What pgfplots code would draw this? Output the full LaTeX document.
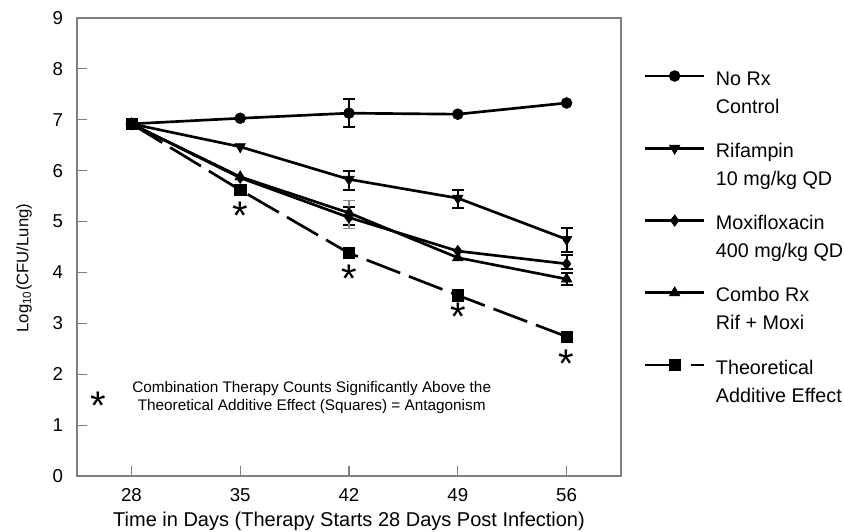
\documentclass[border=0pt]{standalone}
\usepackage{fontspec}
\setmainfont{Liberation Sans}
\usepackage{pgfplots}
\pgfplotsset{compat=1.18}
\begin{document}
\begin{tikzpicture}
\useasboundingbox (-57.75pt,-42pt) rectangle (575.25pt,357pt);
\begin{axis}[
  at={(0pt,0pt)}, anchor=south west,
  scale only axis, width=408pt, height=343.5pt,
  xmin=24.5, xmax=59.5, ymin=0, ymax=9,
  xtick={28,35,42,49,56}, ytick={0,1,...,9},
  tick pos=left, tick align=inside, major tick length=7.5pt,
  axis line style={draw=black!50, line width=0.8pt},
  tick style={draw=black!50, line width=0.8pt},
  /pgf/number format/assume math mode=true,
  tick label style={font=\fontsize{14}{17}\selectfont, inner sep=0pt},
  yticklabel style={anchor=east, xshift=-10.3pt},
  xticklabel style={anchor=north, yshift=-9.2pt},
  xlabel={Time in Days (Therapy Starts 28 Days Post Infection)},
  ylabel={Log\textsubscript{10}(CFU/Lung)},
  xlabel style={font=\fontsize{15}{18}\selectfont, at={(axis description cs:0.5,-0.1110)}, anchor=base},
  ylabel style={font=\fontsize{12.5}{15}\selectfont, at={(axis description cs:-0.0895,0.454)}, anchor=base},
  legend style={at={(1,1)}, anchor=north west, xshift=17.25pt, yshift=-35.55pt,
    draw=none, fill=none, inner sep=0pt, outer sep=0pt,
    row sep=12.2pt, column sep=8pt,
    font=\fontsize{14.8}{21}\selectfont,
    nodes={inner sep=0pt, outer sep=0pt, text depth=},
    cells={anchor=base west}},
  legend image code/.code={\draw[mark repeat=2,mark phase=2,#1] plot coordinates {(0pt,6.75pt) (22pt,6.75pt) (44pt,6.75pt)};},
  every axis plot/.append style={black, line width=2pt},
]
% error bars
\addplot[black, line width=1.5pt, only marks, mark=none, forget plot,
  error bars/.cd, y dir=both, y explicit,
  error bar style={line width=1.5pt},
  error mark options={rotate=90, mark size=4.5pt, line width=1.5pt}]
  coordinates {
  (42,7.13) += (0,0.27) -= (0,0.27)
  (42,5.83) += (0,0.16) -= (0,0.21)
  (49,5.46) += (0,0.17) -= (0,0.20)
  (56,4.65) += (0,0.22) -= (0,0.24)
  (42,5.17) += (0,0.12) -= (0,0.24)
  (56,4.17) += (0,0.17) -= (0,0.10)
  (56,3.87) += (0,0.11) -= (0,0.12)
  };
\addplot[black!45, line width=1pt, only marks, mark=none, forget plot,
  error bars/.cd, y dir=both, y explicit,
  error bar style={line width=1pt},
  error mark options={rotate=90, mark size=4.5pt, line width=1pt}]
  coordinates {
  (42,5.08) += (0,0.34) -= (0,0.21)
  };
% No Rx
\addplot[mark=*, mark size=4.1pt, mark options={solid, fill=black, line width=0.4pt}]
  coordinates {(28,6.92) (35,7.03) (42,7.13) (49,7.11) (56,7.33)};
\addlegendentry{\begin{tabular}[t]{@{}l@{}}No Rx\\Control\end{tabular}}
% Rifampin
\addplot[mark=triangle*, mark size=4.6pt, mark options={solid, fill=black, rotate=180, line width=0.4pt}]
  coordinates {(28,6.92) (35,6.47) (42,5.83) (49,5.46) (56,4.65)};
\addlegendentry{\begin{tabular}[t]{@{}l@{}}Rifampin\\10 mg/kg QD\end{tabular}}
% Moxifloxacin
\addplot[mark=diamond*, mark size=4.3pt, mark options={solid, fill=black, line width=0.4pt}]
  coordinates {(28,6.92) (35,5.86) (42,5.08) (49,4.42) (56,4.17)};
\addlegendentry{\begin{tabular}[t]{@{}l@{}}Moxifloxacin\\400 mg/kg QD\end{tabular}}
% Combo
\addplot[mark=triangle*, mark size=4.6pt, mark options={solid, fill=black, line width=0.4pt}]
  coordinates {(28,6.92) (35,5.88) (42,5.17) (49,4.29) (56,3.87)};
\addlegendentry{\begin{tabular}[t]{@{}l@{}}Combo Rx\\Rif + Moxi\end{tabular}}
% Theoretical
\addplot[dash pattern=on 27pt off 7pt, mark=square*, mark size=4.2pt, mark options={solid, fill=black, line width=0.4pt}]
  coordinates {(28,6.92) (35,5.62) (42,4.38) (49,3.55) (56,2.74)};
\addlegendentry{\begin{tabular}[t]{@{}l@{}}Theoretical\\Additive Effect\end{tabular}}
% significance stars
\addplot[only marks, forget plot, mark=text, text mark={*}, text mark as node=true,
  text mark style={font=\fontsize{30}{30}\selectfont, inner sep=0pt, yshift=-6.5pt}]
  coordinates {(35,5.29) (42,4.05) (49,3.30) (56,2.38)};
% annotation
\node[font=\fontsize{30}{30}\selectfont, inner sep=0pt, yshift=-6.5pt] at (axis cs:25.85,1.55) {*};
\node[font=\fontsize{11.5}{13.5}\selectfont, align=center, inner sep=0pt] at (axis cs:39.6,1.55)
  {Combination Therapy Counts Significantly Above the\\Theoretical Additive Effect (Squares) = Antagonism};
\end{axis}
\end{tikzpicture}
\end{document}
